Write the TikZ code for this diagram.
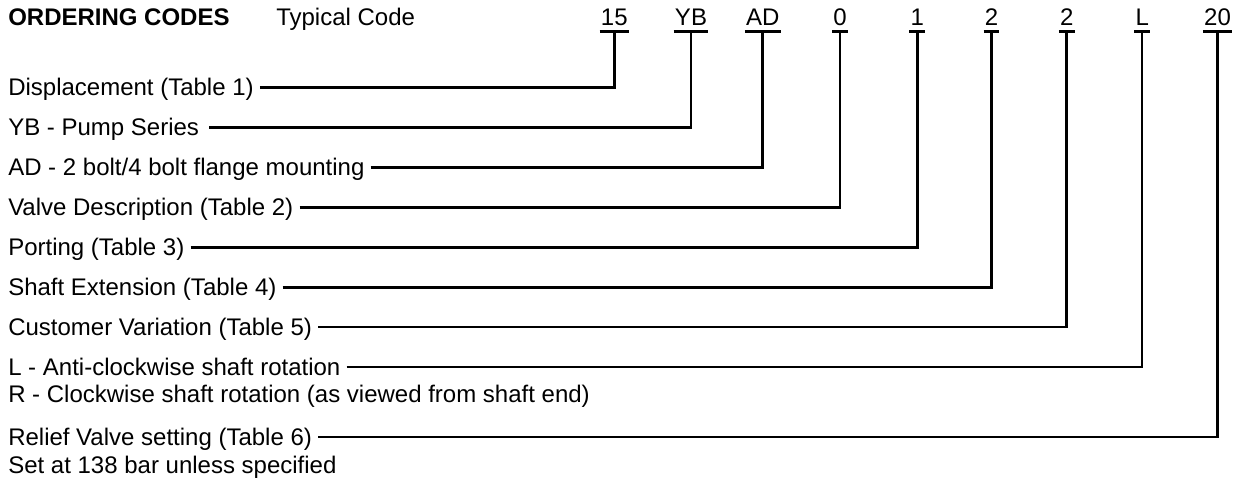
\documentclass[tikz,border=0pt]{standalone}
\usepackage{fontspec}
\setmainfont{Liberation Sans}

\begin{document}
\begin{tikzpicture}[x=0.5pt, y=-0.5pt, line width=1.25pt,
    font=\fontsize{12}{14}\selectfont,
    code/.style={anchor=base, inner xsep=0pt, inner ysep=2.25pt, text depth=0pt},
    lbl/.style={anchor=west, inner xsep=2.5pt, inner ysep=0pt, text height=11pt, text depth=2.5pt}]

    % Fix the picture size
    \useasboundingbox (0,0) rectangle (1244,479);

    % Title line
    \node[anchor=base west, inner xsep=2.5pt] (title) at (2,25.5) {\bfseries ORDERING CODES};
    \node[anchor=base west, inner xsep=2.5pt] (typical) at (270,25.5) {Typical Code};

    % Parts of the typical code
    \node[code] (c15) at (614.3,25.5) {15};
    \node[code] (cYB) at (691,25.5) {YB};
    \node[code] (cAD) at (762.7,25.5) {AD};
    \node[code] (c0) at (840,25.5) {0};
    \node[code] (c1) at (917.3,25.5) {1};
    \node[code] (c2a) at (991.5,25.5) {2};
    \node[code] (c2b) at (1066.7,25.5) {2};
    \node[code] (cL) at (1142.2,25.5) {L};
    \node[code] (c20) at (1217.5,25.5) {20};

    % Underline each part
    \foreach \c in {c15,cYB,cAD,c0,c1,c2a,c2b,cL,c20}
        \draw (\c.south west) -- (\c.south east);

    % Descriptions of the parts
    \node[lbl] (disp) at (2,87.3) {Displacement (Table 1)};
    \node[lbl, inner xsep=4.5pt] (series) at (-2,127.3) {YB - Pump Series};
    \node[lbl] (mount) at (2,167.3) {AD - 2 bolt/4 bolt flange mounting};
    \node[lbl] (valve) at (2,207.3) {Valve Description (Table 2)};
    \node[lbl] (port) at (2,247.3) {Porting (Table 3)};
    \node[lbl] (shaft) at (2,287.3) {Shaft Extension (Table 4)};
    \node[lbl] (cust) at (2,327) {Customer Variation (Table 5)};
    \node[lbl] (rotL) at (2,367) {L - Anti-clockwise shaft rotation};
    \node[lbl] (rotR) at (2,394) {R - Clockwise shaft rotation (as viewed from shaft end)};
    \node[lbl] (relief) at (2,437) {Relief Valve setting (Table 6)};
    \node[lbl] (setat) at (2,465) {Set at 138 bar unless specified};

    % Connect each description to its part
    \draw (disp.east) -| (c15.south);
    \draw (series.east) -| (cYB.south);
    \draw (mount.east) -| (cAD.south);
    \draw (valve.east) -| (c0.south);
    \draw (port.east) -| (c1.south);
    \draw (shaft.east) -| (c2a.south);
    \draw (cust.east) -| (c2b.south);
    \draw (rotL.east) -| (cL.south);
    \draw (relief.east) -| (c20.south);

\end{tikzpicture}
\end{document}
